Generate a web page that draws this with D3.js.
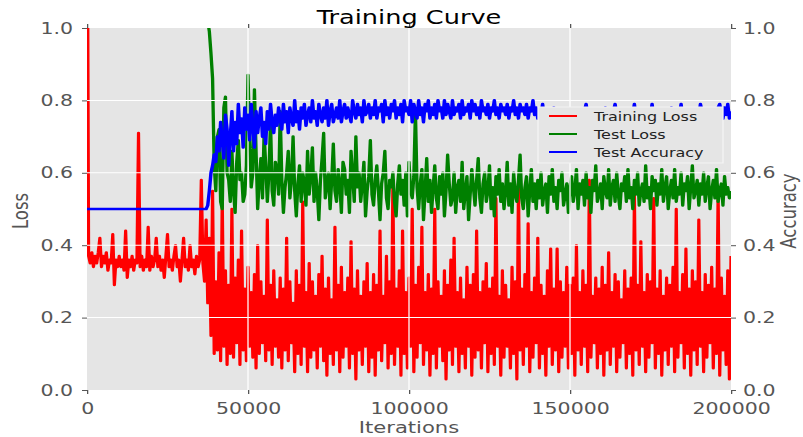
<!DOCTYPE html>
<html>
<head>
<meta charset="utf-8">
<script src="https://cdn.jsdelivr.net/npm/d3@7"></script>
<style>
  html, body { margin: 0; padding: 0; background: #ffffff; }
  svg { display: block; }
</style>
</head>
<body>
<svg id="chart" width="803" height="437"></svg>
<script>
// Logging interval (iterations between recorded values)
const logStep = 500;

// Training loss, one value every 500 iterations (0 .. 200000)
const trainLoss = [
  1.60,0.37,0.35,0.38,0.34,0.37,0.35,0.38,0.42,0.34,0.37,0.35,0.38,0.33,0.36,0.35,0.43,0.29,0.36,0.34,
  0.37,0.34,0.36,0.33,0.44,0.31,0.36,0.34,0.37,0.33,0.36,0.35,0.71,0.34,0.37,0.33,0.36,0.34,0.45,0.33,
  0.37,0.34,0.36,0.42,0.34,0.37,0.33,0.36,0.31,0.37,0.43,0.34,0.36,0.33,0.37,0.40,0.34,0.36,0.30,0.36,
  0.42,0.34,0.36,0.33,0.40,0.34,0.36,0.32,0.37,0.34,0.36,0.58,0.35,0.30,0.47,0.24,0.42,0.15,0.55,0.10,
  0.30,0.11,0.38,0.08,0.53,0.12,0.33,0.07,0.29,0.10,0.50,0.09,0.31,0.13,0.36,0.07,0.44,0.11,0.28,0.08,
  0.34,0.12,0.27,0.09,0.32,0.06,0.40,0.10,0.30,0.13,0.26,0.08,0.47,0.11,0.29,0.07,0.33,0.12,0.25,0.09,
  0.31,0.06,0.28,0.11,0.42,0.08,0.30,0.13,0.24,0.05,0.33,0.10,0.29,0.07,0.52,0.12,0.27,0.05,0.35,0.09,
  0.30,0.11,0.26,0.06,0.32,0.12,0.37,0.08,0.28,0.04,0.31,0.10,0.25,0.07,0.45,0.11,0.29,0.05,0.34,0.09,
  0.27,0.12,0.31,0.06,0.41,0.10,0.28,0.03,0.33,0.11,0.26,0.07,0.30,0.12,0.35,0.05,0.27,0.09,0.32,0.04,
  0.29,0.11,0.44,0.08,0.26,0.13,0.37,0.06,0.30,0.10,0.58,0.07,0.28,0.12,0.33,0.04,0.44,0.10,0.27,0.06,
  0.31,0.12,0.50,0.05,0.29,0.09,0.34,0.13,0.45,0.07,0.27,0.11,0.32,0.04,0.28,0.10,0.50,0.06,0.30,0.12,
  0.26,0.08,0.33,0.03,0.29,0.11,0.36,0.07,0.42,0.12,0.27,0.05,0.31,0.10,0.25,0.06,0.34,0.12,0.29,0.04,
  0.32,0.09,0.44,0.11,0.27,0.06,0.30,0.13,0.35,0.05,0.28,0.10,0.31,0.07,0.53,0.12,0.26,0.04,0.33,0.09,
  0.29,0.12,0.25,0.06,0.34,0.10,0.30,0.03,0.57,0.11,0.28,0.07,0.32,0.12,0.46,0.05,0.27,0.09,0.31,0.13,
  0.42,0.06,0.29,0.10,0.26,0.04,0.33,0.12,0.39,0.07,0.28,0.11,0.39,0.05,0.30,0.09,0.27,0.12,0.34,0.06,
  0.29,0.10,0.31,0.04,0.40,0.11,0.27,0.07,0.33,0.12,0.29,0.05,0.58,0.09,0.26,0.13,0.31,0.06,0.28,0.10,
  0.34,0.04,0.29,0.11,0.38,0.07,0.27,0.12,0.32,0.05,0.30,0.09,0.25,0.13,0.33,0.06,0.28,0.10,0.31,0.04,
  0.54,0.11,0.29,0.07,0.41,0.12,0.27,0.05,0.32,0.09,0.30,0.13,0.53,0.06,0.28,0.10,0.33,0.04,0.26,0.11,
  0.31,0.07,0.29,0.12,0.34,0.05,0.50,0.09,0.27,0.13,0.32,0.06,0.39,0.10,0.28,0.04,0.33,0.11,0.30,0.07,
  0.47,0.12,0.27,0.05,0.32,0.09,0.29,0.13,0.34,0.06,0.28,0.10,0.55,0.04,0.31,0.11,0.26,0.07,0.33,0.03,0.37
];

// Test loss, one value every 500 iterations (0 .. 200000)
const testLoss = [
  1.42,1.41,1.40,1.41,1.39,1.40,1.38,1.39,1.37,1.38,1.36,1.37,1.35,1.36,1.34,1.35,1.33,1.34,1.32,1.33,
  1.31,1.32,1.30,1.31,1.29,1.30,1.28,1.29,1.27,1.28,1.26,1.27,1.25,1.26,1.24,1.25,1.23,1.24,1.22,1.23,
  1.21,1.22,1.20,1.21,1.19,1.20,1.18,1.19,1.17,1.18,1.16,1.17,1.15,1.16,1.14,1.15,1.13,1.14,1.12,1.13,
  1.11,1.12,1.10,1.11,1.09,1.10,1.08,1.09,1.07,1.08,1.06,1.07,1.05,1.06,1.05,1.02,0.99,0.93,0.86,0.62,
  0.55,0.70,0.72,0.52,0.50,0.78,0.81,0.60,0.58,0.52,0.66,0.55,0.49,0.63,0.69,0.58,0.60,0.52,0.54,0.62,
  0.87,0.70,0.56,0.60,0.83,0.66,0.50,0.58,0.64,0.53,0.71,0.62,0.52,0.60,0.74,0.55,0.51,0.63,0.61,0.54,
  0.77,0.58,0.49,0.56,0.60,0.66,0.53,0.58,0.70,0.55,0.48,0.57,0.62,0.52,0.60,0.57,0.51,0.66,0.54,0.59,
  0.67,0.52,0.60,0.55,0.47,0.58,0.64,0.71,0.53,0.57,0.60,0.50,0.58,0.68,0.55,0.52,0.61,0.57,0.49,0.63,
  0.61,0.54,0.58,0.49,0.66,0.59,0.52,0.70,0.56,0.60,0.52,0.57,0.63,0.48,0.55,0.59,0.69,0.54,0.51,0.58,
  0.62,0.55,0.47,0.57,0.60,0.66,0.53,0.50,0.58,0.56,0.60,0.52,0.48,0.57,0.62,0.54,0.58,0.51,0.60,0.48,
  0.63,0.55,0.53,0.59,0.77,0.56,0.50,0.57,0.61,0.47,0.55,0.64,0.52,0.58,0.49,0.56,0.62,0.53,0.50,0.59,
  0.54,0.60,0.48,0.55,0.65,0.57,0.51,0.53,0.60,0.49,0.56,0.58,0.52,0.63,0.50,0.55,0.59,0.47,0.54,0.61,
  0.56,0.51,0.58,0.64,0.53,0.49,0.57,0.60,0.52,0.55,0.62,0.50,0.56,0.48,0.59,0.54,0.61,0.52,0.57,0.50,
  0.55,0.63,0.51,0.57,0.49,0.60,0.54,0.52,0.58,0.65,0.53,0.50,0.56,0.59,0.48,0.55,0.61,0.52,0.57,0.50,
  0.58,0.53,0.60,0.51,0.55,0.57,0.49,0.59,0.54,0.61,0.52,0.56,0.50,0.58,0.55,0.60,0.51,0.54,0.57,0.49,
  0.56,0.59,0.52,0.55,0.61,0.50,0.57,0.54,0.58,0.51,0.60,0.53,0.56,0.49,0.58,0.55,0.62,0.52,0.54,0.57,
  0.50,0.59,0.55,0.53,0.61,0.51,0.56,0.58,0.52,0.60,0.54,0.50,0.57,0.55,0.59,0.52,0.61,0.53,0.56,0.50,
  0.58,0.54,0.60,0.51,0.55,0.57,0.52,0.62,0.53,0.56,0.50,0.59,0.55,0.58,0.51,0.57,0.54,0.61,0.52,0.56,
  0.59,0.50,0.55,0.58,0.53,0.61,0.52,0.56,0.54,0.60,0.51,0.57,0.55,0.59,0.50,0.56,0.62,0.53,0.55,0.58,
  0.51,0.57,0.54,0.60,0.52,0.56,0.59,0.50,0.55,0.58,0.53,0.61,0.52,0.55,0.57,0.51,0.59,0.54,0.56,0.53,
  0.55
];

// Test accuracy, one value every 500 iterations (0 .. 200000)
const testAccuracy = [
  0.50,0.50,0.50,0.50,0.50,0.50,0.50,0.50,0.50,0.50,0.50,0.50,0.50,0.50,0.50,0.50,0.50,0.50,0.50,0.50,
  0.50,0.50,0.50,0.50,0.50,0.50,0.50,0.50,0.50,0.50,0.50,0.50,0.50,0.50,0.50,0.50,0.50,0.50,0.50,0.50,
  0.50,0.50,0.50,0.50,0.50,0.50,0.50,0.50,0.50,0.50,0.50,0.50,0.50,0.50,0.50,0.50,0.50,0.50,0.50,0.50,
  0.50,0.50,0.50,0.50,0.50,0.50,0.50,0.50,0.50,0.50,0.50,0.50,0.50,0.50,0.50,0.51,0.55,0.60,0.62,0.65,
  0.63,0.70,0.66,0.74,0.69,0.64,0.76,0.72,0.62,0.70,0.77,0.66,0.74,0.68,0.79,0.71,0.75,0.67,0.78,0.72,
  0.76,0.69,0.79,0.73,0.67,0.77,0.71,0.75,0.78,0.70,0.74,0.68,0.77,0.72,0.79,0.74,0.71,0.76,0.73,0.78,
  0.75,0.72,0.79,0.74,0.77,0.71,0.78,0.75,0.73,0.80,0.74,0.77,0.72,0.78,0.75,0.79,0.73,0.76,0.78,0.74,
  0.80,0.75,0.77,0.73,0.79,0.76,0.74,0.78,0.75,0.80,0.73,0.77,0.79,0.74,0.76,0.78,0.75,0.80,0.74,0.77,
  0.79,0.75,0.78,0.76,0.74,0.80,0.77,0.75,0.79,0.76,0.78,0.74,0.80,0.76,0.77,0.79,0.75,0.78,0.76,0.80,
  0.75,0.78,0.77,0.79,0.74,0.80,0.76,0.78,0.75,0.79,0.77,0.80,0.75,0.78,0.76,0.79,0.74,0.80,0.77,0.78,
  0.76,0.80,0.74,0.79,0.77,0.75,0.80,0.76,0.78,0.74,0.79,0.77,0.80,0.75,0.78,0.76,0.79,0.75,0.80,0.77,
  0.78,0.75,0.80,0.76,0.79,0.77,0.75,0.80,0.76,0.78,0.77,0.79,0.75,0.80,0.76,0.78,0.77,0.79,0.75,0.80,
  0.77,0.79,0.76,0.78,0.75,0.80,0.77,0.78,0.76,0.79,0.75,0.78,0.77,0.80,0.76,0.78,0.75,0.79,0.77,0.78,
  0.76,0.79,0.75,0.78,0.77,0.80,0.76,0.78,0.75,0.79,0.77,0.78,0.76,0.79,0.75,0.78,0.77,0.80,0.76,0.78,
  0.75,0.77,0.76,0.79,0.75,0.77,0.76,0.75,0.77,0.76,0.78,0.75,0.77,0.76,0.75,0.77,0.76,0.77,0.75,0.77,
  0.76,0.75,0.77,0.76,0.76,0.75,0.77,0.76,0.75,0.77,0.79,0.76,0.75,0.77,0.76,0.75,0.77,0.77,0.76,0.75,
  0.77,0.76,0.78,0.75,0.77,0.76,0.75,0.77,0.79,0.76,0.75,0.77,0.76,0.77,0.75,0.77,0.76,0.75,0.77,0.76,
  0.79,0.75,0.77,0.76,0.75,0.77,0.77,0.76,0.75,0.77,0.76,0.79,0.75,0.77,0.76,0.75,0.77,0.76,0.76,0.75,
  0.77,0.76,0.75,0.78,0.77,0.76,0.75,0.77,0.76,0.79,0.75,0.77,0.76,0.75,0.77,0.76,0.76,0.75,0.77,0.76,
  0.75,0.79,0.77,0.76,0.75,0.77,0.76,0.77,0.75,0.77,0.76,0.75,0.78,0.79,0.76,0.75,0.78,0.76,0.79,0.75,
  0.77
];

const xTicks = [0, 50000, 100000, 150000, 200000];
const yTicks = [0.0, 0.2, 0.4, 0.6, 0.8, 1.0];
const seriesNames = ["Training Loss", "Test Loss", "Test Accuracy"];
const seriesColors = ["#ff0000", "#008000", "#0000ff"];

// ---- layout ----
const SX = 1.28;                 // horizontal stretch of the whole figure
const FONT = "'DejaVu Sans', 'Liberation Sans', sans-serif";
const plotL = 87 / SX, plotR = 731 / SX, plotT = 28, plotB = 390;

const svg = d3.select("#chart");
const root = svg.append("g").attr("transform", `scale(${SX},1)`);

const x = d3.scaleLinear().domain([0, 200000]).range([plotL, plotR]);
const yLoss = d3.scaleLinear().domain([0, 1]).range([plotB, plotT]);
const yAcc = d3.scaleLinear().domain([0, 1]).range([plotB, plotT]);

// axes background
root.append("rect")
  .attr("x", plotL).attr("y", plotT)
  .attr("width", plotR - plotL).attr("height", plotB - plotT)
  .attr("fill", "#e5e5e5");

root.append("defs").append("clipPath").attr("id", "plotClip")
  .append("rect")
  .attr("x", plotL).attr("y", plotT)
  .attr("width", plotR - plotL).attr("height", plotB - plotT);

const plot = root.append("g").attr("clip-path", "url(#plotClip)");

const lossLine = d3.line()
  .x((d, i) => x(i * logStep))
  .y(d => yLoss(d));
const accLine = d3.line()
  .x((d, i) => x(i * logStep))
  .y(d => yAcc(d));

function drawSeries(data, gen, color, width) {
  plot.append("path")
    .datum(data)
    .attr("d", gen)
    .attr("fill", "none")
    .attr("stroke", color)
    .attr("stroke-width", width)
    .attr("stroke-linejoin", "round");
}

// loss curves (first axes)
drawSeries(trainLoss, lossLine, seriesColors[0], 2.5);
drawSeries(testLoss, lossLine, seriesColors[1], 2.6);

// grid of the twin axes lies over the loss curves
const grid = plot.append("g").attr("stroke", "#ffffff").attr("stroke-width", 1);
grid.selectAll("line.gy")
  .data(yTicks.filter(v => v > 0 && v < 1))
  .join("line")
  .attr("class", "gy")
  .attr("x1", plotL).attr("x2", plotR)
  .attr("y1", d => yAcc(d)).attr("y2", d => yAcc(d));
grid.selectAll("line.gx")
  .data(xTicks.filter(v => v > 0 && v < 200000))
  .join("line")
  .attr("class", "gx")
  .attr("x1", d => x(d)).attr("x2", d => x(d))
  .attr("y1", plotT).attr("y2", plotB);

// accuracy curve (twin axes)
drawSeries(testAccuracy, accLine, seriesColors[2], 2.7);

// ---- axes ----
const tickColor = "#555555";
const tickFont = 16;
function styleAxis(g) {
  g.select(".domain").remove();
  g.selectAll(".tick line").attr("stroke", tickColor).attr("stroke-width", 1);
  g.selectAll(".tick text")
    .attr("fill", tickColor)
    .attr("font-family", FONT)
    .attr("font-size", tickFont);
}

const fmtY = d3.format(".1f");
root.append("g")
  .attr("transform", `translate(${plotL},0)`)
  .call(d3.axisLeft(yLoss).tickValues(yTicks).tickFormat(fmtY)
    .tickSize(5 / SX).tickPadding(9 / SX))
  .call(styleAxis);

root.append("g")
  .attr("transform", `translate(${plotR},0)`)
  .call(d3.axisRight(yAcc).tickValues(yTicks).tickFormat(fmtY)
    .tickSize(5 / SX).tickPadding(7 / SX))
  .call(styleAxis);

root.append("g")
  .attr("transform", `translate(0,${plotB})`)
  .call(d3.axisBottom(x).tickValues(xTicks).tickFormat(d3.format("d"))
    .tickSize(4).tickPadding(8.5))
  .call(styleAxis);

root.append("g")
  .attr("transform", `translate(0,${plotT})`)
  .call(d3.axisTop(x).tickValues(xTicks).tickFormat(() => "").tickSize(4))
  .call(styleAxis);

// ---- titles and labels ----
const midX = (plotL + plotR) / 2;
root.append("text")
  .attr("x", midX).attr("y", 24)
  .attr("text-anchor", "middle")
  .attr("font-family", FONT).attr("font-size", 20)
  .attr("fill", "#000000")
  .text("Training Curve");

root.append("text")
  .attr("x", midX).attr("y", 433)
  .attr("text-anchor", "middle")
  .attr("font-family", FONT).attr("font-size", 16.5)
  .attr("fill", tickColor)
  .text("Iterations");

root.append("text")
  .attr("transform", `translate(${28 / SX},211) rotate(-90)`)
  .attr("text-anchor", "middle")
  .attr("font-family", FONT).attr("font-size", 16.5)
  .attr("fill", tickColor)
  .text("Loss");

root.append("text")
  .attr("transform", `translate(${796 / SX},211) rotate(-90)`)
  .attr("text-anchor", "middle")
  .attr("font-family", FONT).attr("font-size", 16.5)
  .attr("fill", tickColor)
  .text("Accuracy");

// ---- legend ----
const legend = root.append("g");
legend.append("rect")
  .attr("x", 538 / SX).attr("y", 107)
  .attr("width", (723 - 538) / SX).attr("height", 56)
  .attr("fill", "#e5e5e5")
  .attr("stroke", "#f4f4f4").attr("stroke-width", 1);

const rowY = d3.scalePoint().domain(seriesNames).range([116, 152]);
const rows = legend.selectAll("g.row")
  .data(seriesNames)
  .join("g")
  .attr("class", "row")
  .attr("transform", d => `translate(0,${rowY(d)})`);
rows.append("line")
  .attr("x1", 549 / SX).attr("x2", 577 / SX)
  .attr("y1", 0).attr("y2", 0)
  .attr("stroke", (d, i) => seriesColors[i])
  .attr("stroke-width", 2);
rows.append("text")
  .attr("x", 594 / SX).attr("y", 4.6)
  .attr("font-family", FONT).attr("font-size", 12.5)
  .attr("fill", "#222222")
  .text(d => d);
</script>
</body>
</html>
